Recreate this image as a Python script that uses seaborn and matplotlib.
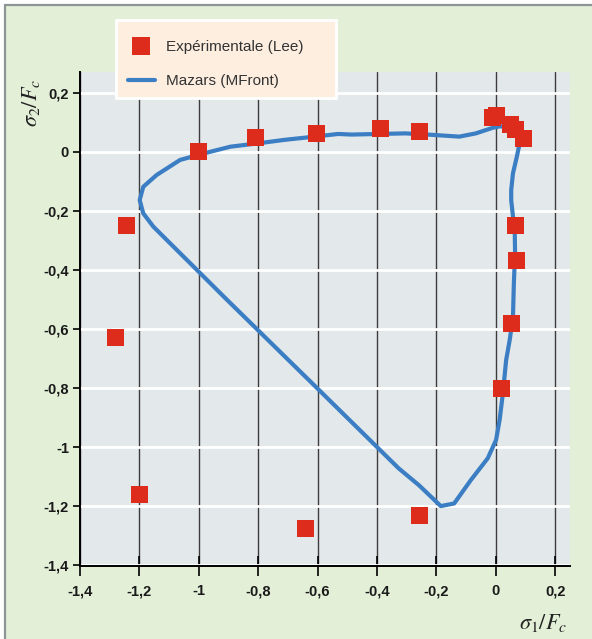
import matplotlib
matplotlib.use("Agg")
import matplotlib.pyplot as plt
from matplotlib.patches import Rectangle
from matplotlib.lines import Line2D
import pandas as pd
import seaborn as sns

# Experimental biaxial failure points (Lee), normalised by Fc
lee_s1 = [-1.20, -1.245, -1.28, -1.00, -0.81, -0.604, -0.387, -0.258,
          -0.010, 0.001, 0.048, 0.065, 0.092,
          0.068, 0.071, 0.054, 0.020, -0.639, -0.258]
lee_s2 = [-1.16, -0.25, -0.63, 0.00, 0.05, 0.063, 0.080, 0.070,
          0.118, 0.125, 0.094, 0.077, 0.046,
          -0.248, -0.367, -0.581, -0.80, -1.275, -1.232]

# Mazars model failure envelope (MFront)
mazars_s1 = [0.078, 0.074, 0.062, 0.040, 0.015, -0.010, -0.040, -0.067,
             -0.123, -0.214, -0.304, -0.395, -0.486, -0.531, -0.610,
             -0.712, -0.802, -0.893, -0.972, -1.063, -1.142, -1.187,
             -1.199, -1.187, -1.153, -1.097, -1.006, -0.904, -0.615,
             -0.327, -0.259, -0.185, -0.140, -0.084, -0.027, 0.001, 0.013,
             0.024, 0.035, 0.047, 0.058, 0.061, 0.065, 0.064, 0.058, 0.052,
             0.052, 0.058, 0.071, 0.078]
mazars_s2 = [0.018, 0.050, 0.072, 0.084, 0.087, 0.082, 0.072, 0.063,
             0.052, 0.058, 0.063, 0.061, 0.059, 0.061, 0.052,
             0.041, 0.029, 0.018, -0.002, -0.027, -0.078, -0.118,
             -0.163, -0.208, -0.253, -0.309, -0.400, -0.502, -0.787,
             -1.072, -1.129, -1.200, -1.191, -1.112, -1.038, -0.976, -0.908,
             -0.818, -0.705, -0.637, -0.558, -0.444, -0.342, -0.275, -0.219,
             -0.163, -0.129, -0.072, -0.016, 0.018]

x_ticks = [-1.4, -1.2, -1.0, -0.8, -0.6, -0.4, -0.2, 0.0, 0.2]
x_tick_labels = ["-1,4", "-1,2", "-1", "-0,8", "-0,6", "-0,4", "-0,2", "0", "0,2"]
y_ticks = [-1.4, -1.2, -1.0, -0.8, -0.6, -0.4, -0.2, 0.0, 0.2]
y_tick_labels = ["-1,4", "-1,2", "-1", "-0,8", "-0,6", "-0,4", "-0,2", "0", "0,2"]

label_exp = "Expérimentale (Lee)"
label_model = "Mazars (MFront)"

RED = "#dd2b1c"
BLUE = "#3b7ec3"

sns.set_theme(style="white")
plt.rcParams["font.family"] = ["Liberation Sans", "DejaVu Sans"]
plt.rcParams["mathtext.fontset"] = "stix"

W, H = 592, 639
fig = plt.figure(figsize=(W / 100, H / 100), dpi=100, facecolor="white")

# green panel with grey border
fig.patches.append(Rectangle((5 / W, -0.05), 1.2, 1 - 5 / H + 0.05,
                             transform=fig.transFigure, facecolor="#e3efd7",
                             edgecolor="#8d9696", linewidth=1.6, zorder=-1))

ax = fig.add_axes([80 / W, 1 - 566 / H, (570 - 80) / W, (566 - 72) / H])
ax.set_facecolor("#e3e8eb")

env = pd.DataFrame({"s1": mazars_s1, "s2": mazars_s2})
pts = pd.DataFrame({"s1": lee_s1, "s2": lee_s2})

sns.lineplot(data=env, x="s1", y="s2", sort=False, estimator=None,
             color=BLUE, linewidth=3.0, ax=ax, zorder=2)
sns.scatterplot(data=pts, x="s1", y="s2", marker="s", s=150, color=RED,
                edgecolor="none", linewidth=0, ax=ax, zorder=3)

ax.set_xlim(-1.4, 0.25)
ax.set_ylim(-1.403, 0.271)
ax.set_xticks(x_ticks)
ax.set_xticklabels(x_tick_labels)
ax.set_yticks(y_ticks)
ax.set_yticklabels(y_tick_labels)
ax.set_xlabel("")
ax.set_ylabel("")

ax.set_axisbelow(True)
ax.xaxis.grid(True, color="#3c3c3c", linewidth=1.0)
ax.yaxis.grid(True, color="white", linewidth=2.0)

for side in ("top", "right"):
    ax.spines[side].set_visible(False)
for side in ("left", "bottom"):
    ax.spines[side].set_color("black")
    ax.spines[side].set_linewidth(1.4)

ax.tick_params(axis="x", direction="inout", length=14, width=1.2, color="black",
               labelsize=10.5, pad=6, bottom=True)
ax.tick_params(axis="y", direction="out", length=5, width=1.2, color="black",
               labelsize=10.5, pad=3, left=True)
for lab in ax.get_xticklabels() + ax.get_yticklabels():
    lab.set_fontweight("bold")
    lab.set_color("#1a1a1a")

fig.text(543 / W, 1 - 623 / H, r"$\sigma_1/F_c$", fontsize=16,
         ha="center", va="center", color="#222222")
fig.text(31 / W, 1 - 103 / H, r"$\sigma_2/F_c$", fontsize=16, rotation=90,
         ha="center", va="center", color="#222222")

# legend panel
fig.patches.append(Rectangle((116 / W, 1 - 98 / H), 220 / W, 78 / H,
                             transform=fig.transFigure, facecolor="#fdeee0",
                             edgecolor="white", linewidth=2.0, zorder=4))
handles = [
    Line2D([], [], marker="s", linestyle="none", color=RED, markersize=12.5,
           markeredgewidth=0),
    Line2D([], [], color=BLUE, linewidth=3.0),
]
leg = fig.legend(handles, [label_exp, label_model], loc="upper left",
                 bbox_to_anchor=(128 / W, 1 - 40 / H), frameon=False,
                 fontsize=11, borderpad=0, borderaxespad=0,
                 handlelength=1.75, handletextpad=0.75, labelspacing=1.3)
leg.set_zorder(5)
for t in leg.get_texts():
    t.set_color("#333333")

fig.savefig("out.png", dpi=100, facecolor=fig.get_facecolor())
